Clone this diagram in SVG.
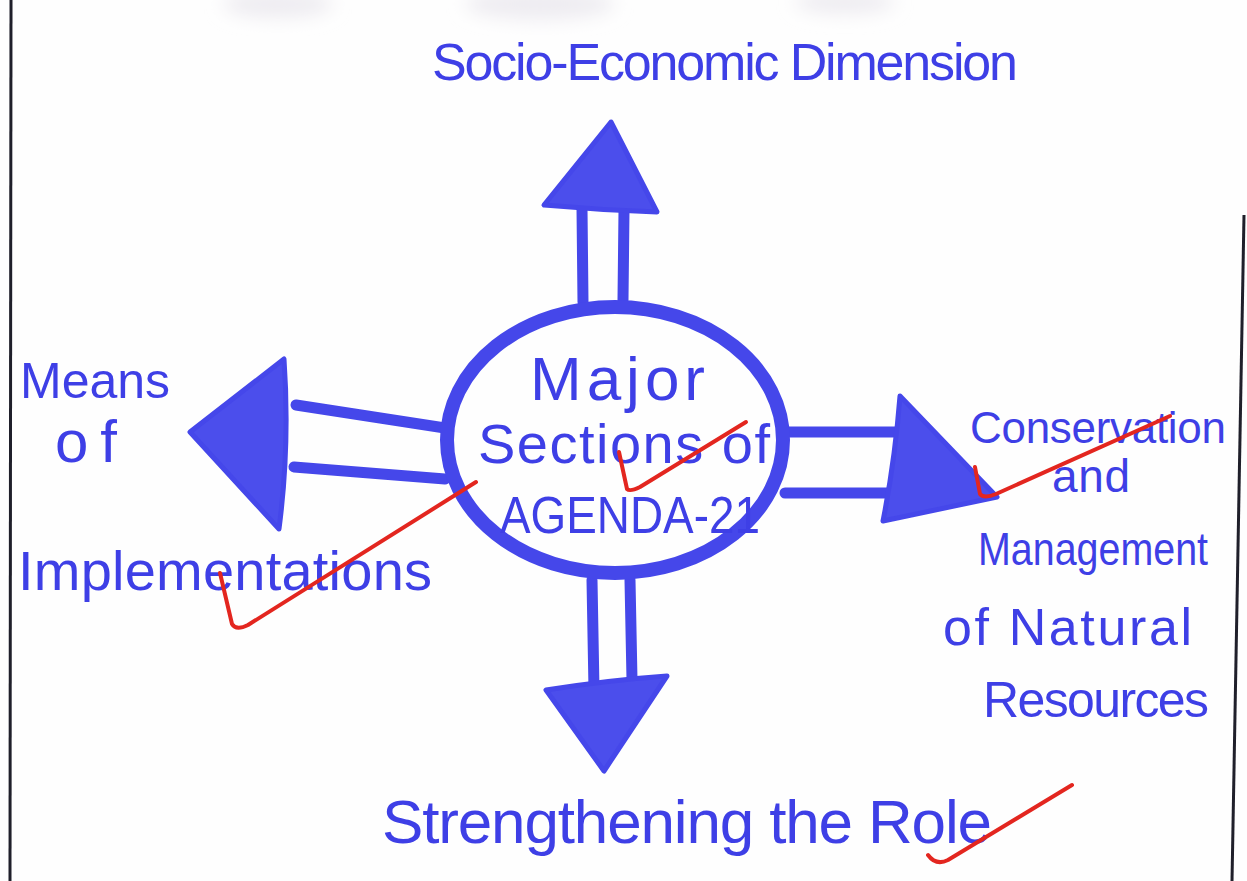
<svg xmlns="http://www.w3.org/2000/svg" width="1247" height="881" viewBox="0 0 1247 881">
  <defs>
    <style>
      .ink { fill: #3e3fe6; font-family: "Liberation Sans", "DejaVu Sans", sans-serif; }
      .shaft { stroke: #4547ea; stroke-width: 11; stroke-linecap: round; fill: none; }
      .head { fill: #4b4eec; stroke: #4547ea; stroke-width: 5; stroke-linejoin: round; }
      .tick { stroke: #e3261f; stroke-width: 4; fill: none; stroke-linecap: round; stroke-linejoin: round; }
      .edge { stroke: #1f1f2a; stroke-width: 3; fill: none; }
    </style>
    <filter id="soft" x="-50%" y="-50%" width="200%" height="200%">
      <feGaussianBlur stdDeviation="9"/>
    </filter>
  </defs>

  <rect width="1247" height="881" fill="#fefefe"/>

  <!-- faint show-through from the reverse of the page -->
  <g filter="url(#soft)" fill="#eeecf1">
    <ellipse cx="278" cy="4" rx="55" ry="14"/>
    <ellipse cx="540" cy="4" rx="75" ry="16"/>
    <ellipse cx="845" cy="2" rx="50" ry="12"/>
  </g>

  <!-- page margins -->
  <line class="edge" x1="11" y1="0" x2="10" y2="881"/>
  <line class="edge" x1="1244" y1="215" x2="1232" y2="881"/>

  <!-- connectors: double-line shafts with filled heads -->
  <g id="connectors">
    <!-- up -->
    <line class="shaft" x1="582" y1="208" x2="583" y2="302"/>
    <line class="shaft" x1="624" y1="210" x2="623" y2="300"/>
    <path class="head" d="M611 122 L544 205 Q600 210 657 212 Z"/>
    <!-- left -->
    <line class="shaft" x1="296" y1="405" x2="445" y2="428"/>
    <line class="shaft" x1="294" y1="467" x2="445" y2="479"/>
    <path class="head" d="M190 432 L284 359 Q290 445 279 529 Z"/>
    <!-- right -->
    <line class="shaft" x1="785" y1="432" x2="902" y2="432"/>
    <line class="shaft" x1="785" y1="493" x2="894" y2="493"/>
    <path class="head" d="M900 396 L997 497 L883 521 Q895 460 900 396 Z"/>
    <!-- down -->
    <line class="shaft" x1="592" y1="580" x2="594" y2="690"/>
    <line class="shaft" x1="630" y1="580" x2="632" y2="680"/>
    <path class="head" d="M546 690 Q610 680 667 676 L604 771 Z"/>
  </g>

  <g id="center">
    <ellipse cx="615" cy="440" rx="168" ry="133" fill="none" stroke="#4547ea" stroke-width="14"/>
    <text class="ink" x="530" y="400" font-size="62" textLength="175" lengthAdjust="spacing">Major</text>
    <text class="ink" x="478" y="463" font-size="56" textLength="292" lengthAdjust="spacing">Sections of</text>
    <text class="ink" x="500" y="533" font-size="52" textLength="260" lengthAdjust="spacingAndGlyphs">AGENDA-21</text>
  </g>

  <g id="top">
    <text class="ink" x="432" y="80" font-size="52" textLength="586" lengthAdjust="spacing">Socio-Economic Dimension</text>
  </g>

  <g id="left">
    <text class="ink" x="20" y="398" font-size="50" textLength="150" lengthAdjust="spacing">Means</text>
    <text class="ink" x="55" y="462" font-size="60" textLength="62" lengthAdjust="spacing">of</text>
    <text class="ink" x="18" y="590" font-size="56" textLength="414" lengthAdjust="spacing">Implementations</text>
  </g>

  <g id="right">
    <text class="ink" x="970" y="443" font-size="44" textLength="256" lengthAdjust="spacing">Conservation</text>
    <text class="ink" x="1052" y="492" font-size="46" textLength="78" lengthAdjust="spacing">and</text>
    <text class="ink" x="978" y="565" font-size="46" textLength="230" lengthAdjust="spacingAndGlyphs">Management</text>
    <text class="ink" x="943" y="645" font-size="52" textLength="249" lengthAdjust="spacing">of Natural</text>
    <text class="ink" x="983" y="717" font-size="50" textLength="226" lengthAdjust="spacing">Resources</text>
  </g>

  <g id="bottom">
    <text class="ink" x="382" y="843" font-size="62" textLength="610" lengthAdjust="spacing">Strengthening the Role</text>
  </g>

  <!-- red check marks -->
  <g id="marks">
    <path class="tick" d="M619 452 L627 489 Q630 492 640 487 L746 422"/>
    <path class="tick" d="M220 573 L232 624 Q236 631 248 625 L476 482"/>
    <path class="tick" d="M975 467 L980 494 Q984 499 996 494 L1170 416"/>
    <path class="tick" d="M928 855 Q936 866 948 860 L1072 785"/>
  </g>
</svg>
